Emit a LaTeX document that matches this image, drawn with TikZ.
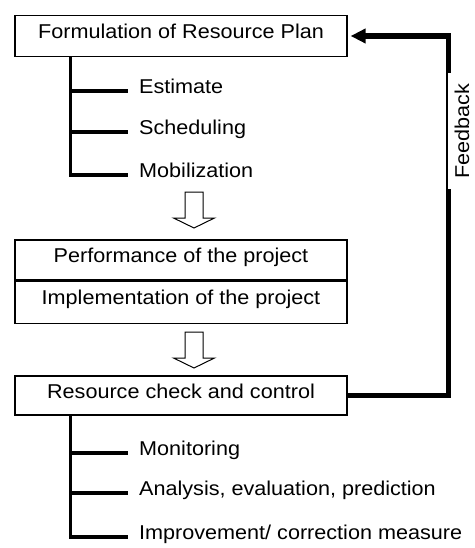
\documentclass[tikz,border=0pt]{standalone}
\usepackage{fontspec}
\setmainfont{Liberation Sans}[FakeStretch=1.08]
\usetikzlibrary{arrows.meta,positioning,calc}

\begin{document}
\begin{tikzpicture}[x=1pt,y=-1pt,
  font=\fontsize{20}{24}\selectfont,
  box/.style={draw,line width=1.2pt,minimum width=332pt,minimum height=41pt,inner sep=0pt,text height=0.72em,text depth=0.2em},
  item/.style={anchor=west,inner xsep=11pt,inner ysep=0pt,text height=0.72em,text depth=0.2em},
  tree/.style={line width=3.8pt},
  hollow/.style={draw,line width=1pt,fill=white},
  feedback/.style={line width=5.5pt,-{Triangle[length=15pt,width=14pt]},shorten >=3pt}]
\useasboundingbox (0,0) rectangle (474,548);
% plan and its three steps
\node[box] (plan) at (181,36) {Formulation of Resource Plan};
\node[item] (est) at (128,91) {Estimate};
\node[item] (sch) at (128,132) {Scheduling};
\node[item] (mob) at (128,175) {Mobilization};
\draw[tree] ($(plan.south west)+(56,0)$) coordinate (trunk1) |- (mob.west);
\foreach \n in {est,sch}{\draw[tree] (trunk1 |- \n.west) -- (\n.west);}
% project
\node[box,minimum height=40pt] (perf) at (181,260) {Performance of the project};
\node[box,minimum height=42pt,below=0pt of perf] (impl) {Implementation of the project};
% check and its three steps
\node[box,minimum height=39pt] (check) at (181,395.5) {Resource check and control};
\node[item] (mon) at (128,453) {Monitoring};
\node[item] (ana) at (128,493) {Analysis, evaluation, prediction};
\node[item] (imp) at (128,537) {Improvement/ correction measure};
\draw[tree] ($(check.south west)+(56,0)$) coordinate (trunk2) |- (imp.west);
\foreach \n in {mon,ana}{\draw[tree] (trunk2 |- \n.west) -- (\n.west);}
% hollow arrows between the boxes
\coordinate (arr1) at (194,192);
\coordinate (arr2) at (194,332);
\foreach \p in {arr1,arr2}{
  \draw[hollow] (\p) ++(-9,0) -- ++(0,26) -- ++(-11.5,0) -- ++(20.5,10) -- ++(20.5,-10) -- ++(-11.5,0) -- ++(0,-26) -- cycle;
}
% feedback loop
\draw[feedback] (check.east) -- ++(101,0) |- (plan.east);
\node[rotate=90,fill=white,inner xsep=11pt,inner ysep=6.5pt] (fblabel) at (462,131) {Feedback};
\end{tikzpicture}
\end{document}
